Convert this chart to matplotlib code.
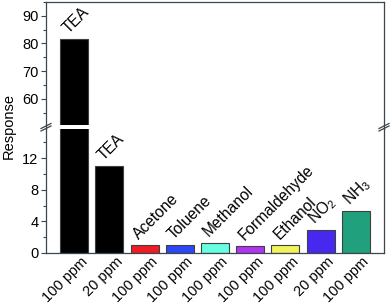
import matplotlib
matplotlib.use("Agg")
import matplotlib.pyplot as plt
from matplotlib.ticker import MultipleLocator
import matplotlib.transforms as mtrans

gases = ["TEA", "TEA", "Acetone", "Toluene", "Methanol", "Formaldehyde", "Ethanol", r"NO$_2$", r"NH$_3$"]
concs = ["100 ppm", "20 ppm", "100 ppm", "100 ppm", "100 ppm", "100 ppm", "100 ppm", "20 ppm", "100 ppm"]
responses = [81.5, 11.0, 1.0, 1.0, 1.3, 0.9, 1.0, 2.9, 5.3]
colors = ["#000000", "#000000", "#ee1c24", "#2a48f5", "#66ffe0", "#b233f2", "#f2f25a", "#4628ee", "#20a07c"]

plt.rcParams['font.family'] = ['Liberation Sans', 'DejaVu Sans']
plt.rcParams['mathtext.fontset'] = 'custom'
plt.rcParams['mathtext.rm'] = 'Liberation Sans'
fs = 10.5
fsa = 11.2
spc = "#3c464c"

fig = plt.figure(figsize=(3.92, 3.08), dpi=100)
L, R = 46/392, 384/392
axu = fig.add_axes([L, 1-125/308, R-L, (125-2)/308])
axl = fig.add_axes([L, 1-253/308, R-L, (253-129)/308])

x = list(range(len(responses)))
for ax in (axu, axl):
    ax.bar(x, responses, width=0.8, color=colors, edgecolor="#404040", linewidth=0.8)
    ax.set_xlim(-0.8, 8.8)
    for s in ax.spines.values():
        s.set_color(spc)
        s.set_linewidth(0.9)
    ax.tick_params(axis='y', which='major', direction='out', length=3.5, width=0.8, color=spc, labelsize=fs, pad=2)
    ax.tick_params(axis='y', which='minor', direction='out', length=2, width=0.8, color=spc)

axu.set_ylim(50.5, 95)
axu.yaxis.set_minor_locator(MultipleLocator(5))
axu.set_yticks([60, 70, 80, 90])
axu.spines['bottom'].set_visible(False)
axu.set_xticks([])

axl.set_ylim(0, 15.7)
axl.set_yticks([0, 4, 8, 12])
axl.yaxis.set_minor_locator(MultipleLocator(2))
axl.spines['top'].set_visible(False)
axl.set_xticks(x)
axl.set_xticklabels(concs, rotation=45, ha='right', va='top', rotation_mode='anchor', fontsize=fs)
axl.tick_params(axis='x', length=0, pad=1)
off = mtrans.ScaledTranslation(6/100, 0, fig.dpi_scale_trans)
for lab in axl.get_xticklabels():
    lab.set_transform(lab.get_transform() + off)

# continuous spines through break
for xf in (L, R):
    fig.add_artist(plt.Line2D([xf, xf], [1-129/308, 1-125/308], color=spc, lw=0.9))
    for yy in (126, 128.5):
        yf = 1-yy/308
        fig.add_artist(plt.Line2D([xf-5/392, xf+5/392], [yf-2.5/308, yf+2.5/308], color=spc, lw=0.9))

# labels above bars
for i, (g, v) in enumerate(zip(gases, responses)):
    ax = axu if v > 50 else axl
    ax.annotate(g, (i, v), xytext=(-4.3, 3.8), textcoords='offset points', rotation=45,
                ha='left', va='baseline', rotation_mode='anchor', fontsize=fsa)

fig.text(0.022, 1-126/308, "Response", rotation=90, va='center', ha='center', fontsize=fs)

fig.savefig("out.png", dpi=100)
